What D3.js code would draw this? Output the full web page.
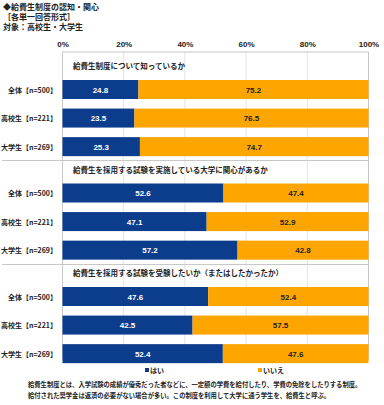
<!DOCTYPE html>
<html>
<head>
<meta charset="utf-8">
<script src="https://cdn.jsdelivr.net/npm/d3@7"></script>
<style>
  body { margin: 0; background: #fff; }
  svg text { font-family: "Noto Sans CJK JP", "Noto Sans", sans-serif; font-weight: bold; fill: #222; }
</style>
</head>
<body>
<svg id="chart" width="384" height="405"></svg>
<script>
// data
const questions = [
  "給費生制度について知っているか",
  "給費生を採用する試験を実施している大学に関心があるか",
  "給費生を採用する試験を受験したいか（またはしたかったか）"
];
const groups = ["全体【n=500】", "高校生【n=221】", "大学生【n=269】"];
const yesValues = [
  [24.8, 23.5, 25.3],
  [52.6, 47.1, 57.2],
  [47.6, 42.5, 52.4]
];
const noValues = [
  [75.2, 76.5, 74.7],
  [47.4, 52.9, 42.8],
  [52.4, 57.5, 47.6]
];
const ticks = [0, 20, 40, 60, 80, 100];
const seriesNames = ["はい", "いいえ"];
const colors = ["#0c3c8c", "#ffa500"];

const svg = d3.select("#chart");

const x = d3.scaleLinear().domain([0, 100]).range([62.5, 368.5]);
const frameTop = 52, frameBottom = 359;

// question blocks, first bar at 80, block step ~103.5
const yQ = d3.scaleLinear().domain([0, 1]).range([80, 183.5]);
const yRow = d3.scaleBand().domain(groups).range([0, 78]).paddingInner(0.27).paddingOuter(0);
const barH = 19;

// gridlines
svg.append("g").selectAll("line").data(ticks.slice(1, -1)).enter().append("line")
  .attr("x1", d => x(d)).attr("x2", d => x(d))
  .attr("y1", frameTop).attr("y2", frameBottom)
  .attr("stroke", "#e4e4e4").attr("stroke-width", 1);

// frame
svg.append("rect")
  .attr("x", x(0)).attr("y", frameTop)
  .attr("width", x(100) - x(0)).attr("height", frameBottom - frameTop)
  .attr("fill", "none").attr("stroke", "#c8c8c8").attr("stroke-width", 1);

// axis labels on top
const axis = d3.axisTop(x).tickValues(ticks).tickFormat(d => d + "%").tickSize(0).tickPadding(0);
const ax = svg.append("g").attr("transform", "translate(0,47)").call(axis);
ax.select(".domain").remove();
ax.selectAll("text").attr("font-size", 8).attr("fill", "#222")
  .style("font-family", "'Liberation Sans', Arial, sans-serif").style("font-weight", "bold");

questions.forEach((q, qi) => {
  const top = yQ(qi);
  const g = svg.append("g");

  g.append("text")
    .attr("x", 73).attr("y", top - 11)
    .attr("font-size", 7.5)
    .text(q);

  // separator under each block except last
  if (qi < questions.length - 1) {
    const sy = Math.round(top + yRow(groups[2]) + barH + 4) + 0.5;
    g.append("line")
      .attr("x1", 2).attr("x2", x(100))
      .attr("y1", sy).attr("y2", sy)
      .attr("stroke", "#c8c8c8");
  }

  groups.forEach((grp, gi) => {
    const y0 = top + yRow(grp);
    const yes = yesValues[qi][gi], no = noValues[qi][gi];
    const segs = [
      { v: yes, x0: 0, x1: yes, c: colors[0], tc: "#fff" },
      { v: no, x0: yes, x1: yes + no, c: colors[1], tc: "#222" }
    ];
    segs.forEach(s => {
      g.append("rect")
        .attr("x", x(s.x0)).attr("y", y0)
        .attr("width", x(Math.min(s.x1, 100)) - x(s.x0)).attr("height", barH)
        .attr("fill", s.c);
      g.append("text")
        .attr("x", (x(s.x0) + x(Math.min(s.x1, 100))) / 2)
        .attr("y", y0 + barH / 2 + 3)
        .attr("text-anchor", "middle")
        .attr("font-size", 8)
        .style("font-family", "'Liberation Sans', Arial, sans-serif")
        .style("fill", s.tc)
        .text(s.v.toFixed(1));
    });
    g.append("text")
      .attr("x", 57).attr("y", y0 + barH / 2 + 3)
      .attr("text-anchor", "end")
      .attr("font-size", 7)
      .text(grp);
  });
});

// title
const titles = ["◆給費生制度の認知・関心", "［各単一回答形式］", "対象：高校生・大学生"];
svg.append("g").selectAll("text").data(titles).enter().append("text")
  .attr("x", 3).attr("y", (d, i) => 10 + i * 10)
  .attr("font-size", 8)
  .text(d => d);

// legend
const legendX = [145, 258];
seriesNames.forEach((n, i) => {
  svg.append("rect").attr("x", legendX[i]).attr("y", 368).attr("width", 4).attr("height", 4).attr("fill", colors[i]);
  svg.append("text").attr("x", legendX[i] + 5).attr("y", 373).attr("font-size", 7).text(n);
});

// footnote
const notes = [
  "給費生制度とは、入学試験の成績が優秀だった者などに、一定額の学費を給付したり、学費の免除をしたりする制度。",
  "給付された奨学金は返済の必要がない場合が多い。この制度を利用して大学に通う学生を、給費生と呼ぶ。"
];
svg.append("g").selectAll("text").data(notes).enter().append("text")
  .attr("x", 28).attr("y", (d, i) => 387 + i * 11)
  .attr("font-size", 6.3)
  .text(d => d);
</script>
</body>
</html>
